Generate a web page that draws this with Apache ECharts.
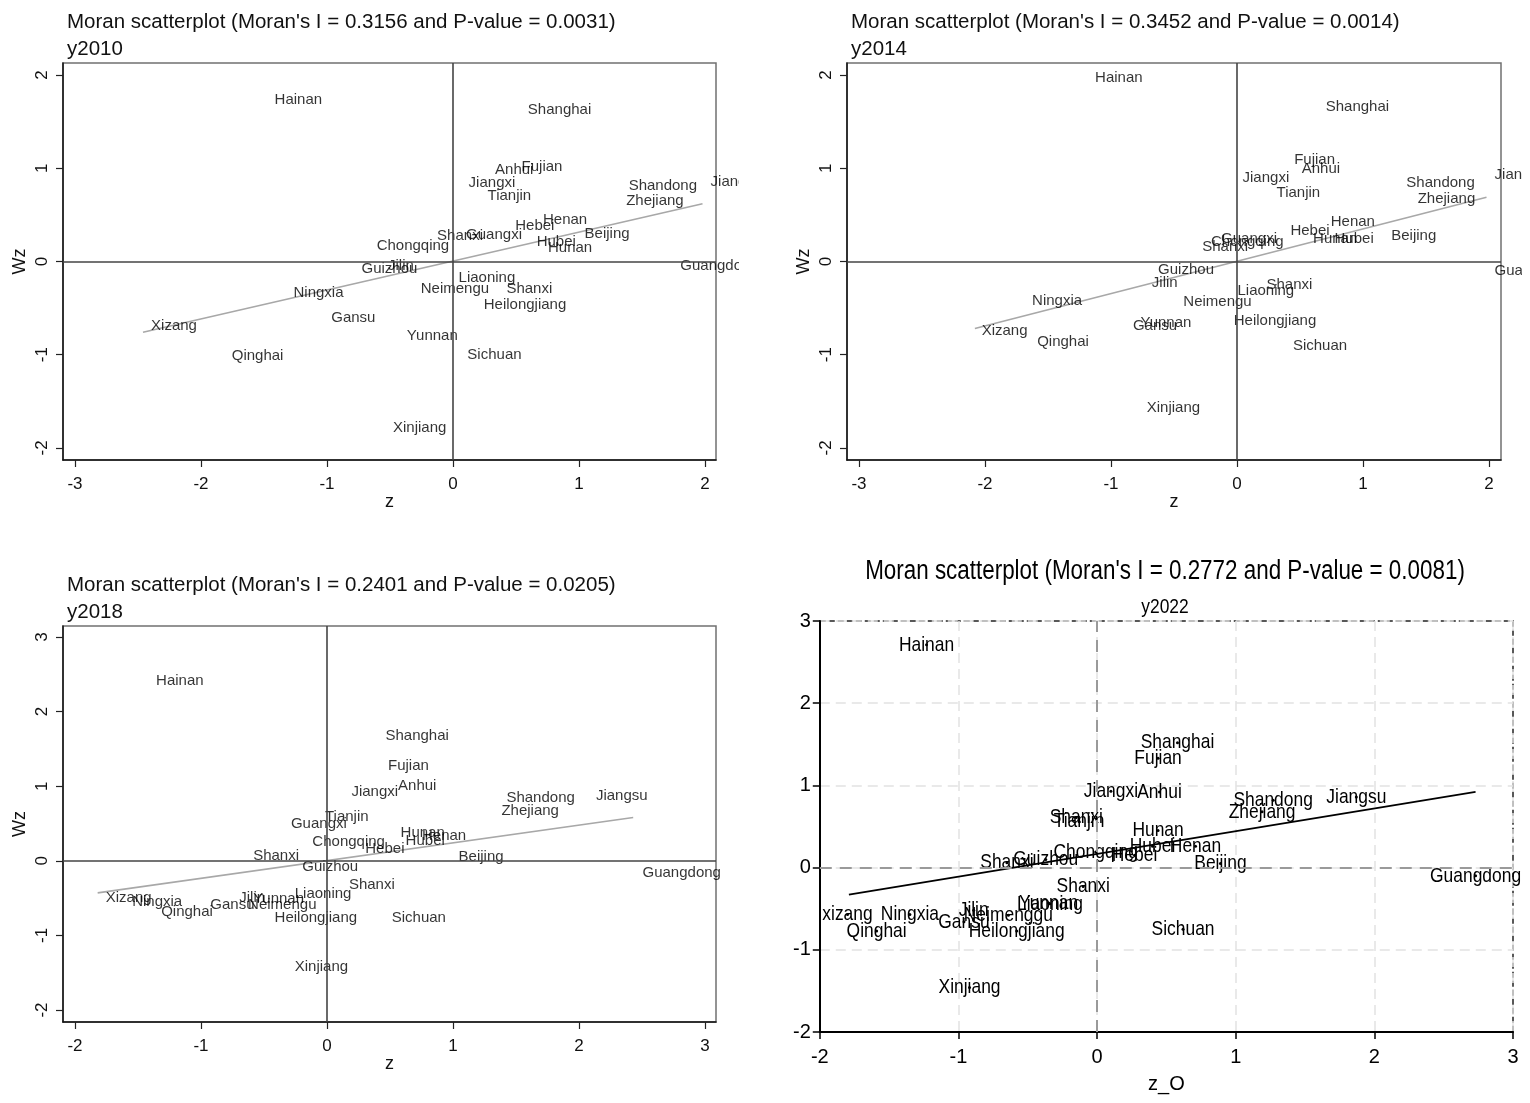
<!DOCTYPE html>
<html><head><meta charset="utf-8">
<script src="https://cdn.jsdelivr.net/npm/echarts@6/dist/echarts.min.js"></script>
<style>
html,body{margin:0;padding:0;background:#fff;overflow:hidden;width:1530px;height:1103px}
.p{position:absolute;overflow:hidden}
</style></head>
<body>
<div id="c1" class="p" style="left:0;top:0;width:739px;height:540px"></div>
<div id="c2" class="p" style="left:784px;top:0;width:738px;height:540px"></div>
<div id="c3" class="p" style="left:0;top:563px;width:739px;height:540px"></div>
<div id="c4" class="p" style="left:790px;top:540px;width:740px;height:563px"></div>
<script>
// ---------- data: 2010 ----------
const names2010 = ['Hainan','Chongqing','Guizhou','Jilin','Ningxia','Gansu','Xizang','Qinghai','Yunnan','Xinjiang','Neimengu','Liaoning','Shanxi','Heilongjiang','Sichuan','Shanxi','Guangxi','Hebei','Henan','Hubei','Hunan','Beijing','Shanghai','Anhui','Fujian','Jiangxi','Tianjin','Shandong','Zhejiang','Guangdong','Jiangsu'];
const z2010  = [-1.48,-0.67,-0.79,-0.58,-1.33,-1.03,-2.46,-1.82,-0.43,-0.54,-0.32,-0.02,0.36,0.18,0.05,-0.19,0.04,0.43,0.65,0.60,0.69,0.98,0.53,0.27,0.48,0.06,0.21,1.33,1.31,1.74,1.98];
const wz2010 = [1.73,0.17,-0.08,-0.05,-0.34,-0.61,-0.69,-1.01,-0.80,-1.78,-0.29,-0.18,-0.29,-0.47,-1.00,0.28,0.29,0.38,0.45,0.21,0.15,0.30,1.63,0.98,1.02,0.84,0.70,0.81,0.65,-0.05,0.85];
const fitX2010 = [-2.46, 1.98];
const fitY2010 = [-0.76, 0.62];

// ---------- data: 2014 ----------
const names2014 = ['Hainan','Guizhou','Jilin','Ningxia','Xizang','Qinghai','Gansu','Yunnan','Neimengu','Xinjiang','Liaoning','Shanxi','Heilongjiang','Sichuan','Shanxi','Chongqing','Guangxi','Hebei','Henan','Hunan','Hubei','Beijing','Shanghai','Fujian','Anhui','Jiangxi','Tianjin','Shandong','Zhejiang','Jiangsu','Guangdong'];
const z2014  = [-1.19,-0.69,-0.74,-1.69,-2.09,-1.65,-0.89,-0.83,-0.49,-0.78,-0.06,0.17,-0.09,0.38,-0.34,-0.27,-0.19,0.36,0.68,0.54,0.71,1.16,0.64,0.39,0.45,-0.02,0.25,1.28,1.37,1.98,1.98];
const wz2014 = [1.97,-0.09,-0.23,-0.42,-0.74,-0.86,-0.69,-0.66,-0.43,-1.57,-0.31,-0.25,-0.64,-0.91,0.16,0.21,0.24,0.33,0.42,0.24,0.24,0.27,1.66,1.09,0.99,0.90,0.74,0.84,0.67,0.93,-0.10];
const fitX2014 = [-2.08, 1.98];
const fitY2014 = [-0.72, 0.69];

// ---------- data: 2018 ----------
const names2018 = ['Hainan','Shanghai','Fujian','Anhui','Jiangxi','Tianjin','Guangxi','Chongqing','Hebei','Hunan','Hubei','Henan','Beijing','Shandong','Zhejiang','Jiangsu','Guangdong','Shanxi','Guizhou','Shanxi','Liaoning','Sichuan','Heilongjiang','Xinjiang','Xizang','Ningxia','Qinghai','Gansu','Jilin','Yunnan','Neimengu'];
const z2018  = [-1.42,0.40,0.42,0.50,0.13,-0.08,-0.35,-0.18,0.24,0.52,0.56,0.69,0.98,1.36,1.32,2.07,2.44,-0.65,-0.26,0.11,-0.32,0.45,-0.48,-0.32,-1.82,-1.61,-1.38,-0.99,-0.76,-0.65,-0.69];
const wz2018 = [2.41,1.68,1.27,1.01,0.93,0.59,0.50,0.26,0.16,0.37,0.27,0.33,0.05,0.84,0.67,0.87,-0.16,0.07,-0.08,-0.32,-0.44,-0.76,-0.76,-1.42,-0.49,-0.55,-0.69,-0.59,-0.50,-0.51,-0.59];
const fitX2018 = [-1.82, 2.43];
const fitY2018 = [-0.43, 0.58];

// ---------- data: 2022 ----------
const names2022 = ['Hainan','Shanghai','Fujian','Jiangxi','Anhui','Shanxi','Tianjin','Hunan','Hubei','Henan','Hebei','Chongqing','Guizhou','Shanxi','Shanxi','Yunnan','Liaoning','Jilin','Neimenggu','Gansu','Heilongjiang','Ningxia','xizang','Qinghai','Xinjiang','Sichuan','Beijing','Shandong','Zhejiang','Jiangsu','Guangdong'];
const z2022  = [-1.23,0.58,0.44,0.10,0.45,-0.15,-0.13,0.44,0.40,0.71,0.27,-0.01,-0.37,-0.65,-0.10,-0.35,-0.34,-0.89,-0.64,-0.96,-0.58,-1.35,-1.80,-1.59,-0.92,0.62,0.89,1.27,1.19,1.87,2.73];
const wz2022 = [2.71,1.52,1.33,0.93,0.92,0.61,0.56,0.45,0.26,0.26,0.15,0.19,0.10,0.06,-0.23,-0.43,-0.44,-0.52,-0.58,-0.66,-0.77,-0.57,-0.57,-0.77,-1.46,-0.75,0.05,0.82,0.68,0.86,-0.10];
const fitX2022 = [-1.79, 2.73];
const fitY2022 = [-0.33, 0.92];

// ---------- tick labels ----------
const xTicksA = [-3,-2,-1,0,1,2];
const yTicksA = [-2,-1,0,1,2];
const xTicksC = [-2,-1,0,1,2,3];
const yTicksC = [-2,-1,0,1,2,3];

const F = "'Liberation Sans', Arial, sans-serif";
const NARROW = 0.83; // horizontal squeeze to imitate a narrow face

function stataPanel(el, c) {
  const chart = echarts.init(document.getElementById(el), null, {renderer: 'canvas'});
  chart.setOption({
    animation: false,
    title: [
      {text: c.title, left: 67, top: 12, padding: 0, textStyle: {fontFamily: F, fontSize: 20.5, fontWeight: 'normal', color: '#111'}},
      {text: c.sub, left: 67, top: 39, padding: 0, textStyle: {fontFamily: F, fontSize: 20.5, fontWeight: 'normal', color: '#111'}}
    ],
    grid: {left: 63, top: 63, width: c.w, height: c.h, show: true, borderColor: '#707070', borderWidth: 1.5, backgroundColor: '#fff'},
    xAxis: {
      type: 'value', min: c.xMin, max: c.xMax,
      name: 'z', nameLocation: 'middle', nameGap: 33, nameMoveOverlap: false,
      nameTextStyle: {fontFamily: F, fontSize: 18, color: '#111'},
      axisLine: {show: true, onZero: false, lineStyle: {color: '#111', width: 1.5}},
      axisTick: {show: true, length: 7, customValues: c.xTicks, lineStyle: {color: '#222', width: 1.2}},
      axisLabel: {customValues: c.xTicks, fontFamily: F, fontSize: 17, color: '#111', margin: 16},
      splitLine: {show: false}
    },
    yAxis: {
      type: 'value', min: c.yMin, max: c.yMax,
      name: 'Wz', nameLocation: 'middle', nameGap: 34, nameMoveOverlap: false,
      nameTextStyle: {fontFamily: F, fontSize: 18, color: '#111'},
      axisLine: {show: true, onZero: false, lineStyle: {color: '#111', width: 1.5}},
      axisTick: {show: true, length: 7, customValues: c.yTicks, lineStyle: {color: '#222', width: 1.2}},
      axisLabel: {customValues: c.yTicks, rotate: 90, fontFamily: F, fontSize: 17, color: '#111', margin: 12},
      splitLine: {show: false}
    },
    series: [
      {
        type: 'line', data: [[c.fitX[0], c.fitY[0]], [c.fitX[1], c.fitY[1]]],
        symbol: 'none', silent: true, z: 2,
        lineStyle: {color: '#a8a8a8', width: 1.6},
        markLine: {
          silent: true, symbol: ['none', 'none'], label: {show: false},
          lineStyle: {color: '#444', width: 1.6, type: 'solid'},
          data: [{xAxis: 0}, {yAxis: 0}]
        }
      },
      {
        type: 'scatter', clip: false, silent: true, z: 3,
        data: c.names.map((n, i) => ({name: n, value: [c.xs[i], c.ys[i]]})),
        symbolSize: 0.1, itemStyle: {color: 'rgba(0,0,0,0)'},
        label: {show: true, position: 'right', distance: 8, formatter: '{b}', fontFamily: F, fontSize: 15, color: '#000'}
      }
    ]
  });
}

stataPanel('c1', {
  title: "Moran scatterplot (Moran's I = 0.3156 and P-value = 0.0031)", sub: 'y2010',
  names: names2010, xs: z2010, ys: wz2010, fitX: fitX2010, fitY: fitY2010,
  xMin: -3.095, xMax: 2.087, yMin: -2.13, yMax: 2.13, xTicks: xTicksA, yTicks: yTicksA, w: 653, h: 397
});
stataPanel('c2', {
  title: "Moran scatterplot (Moran's I = 0.3452 and P-value = 0.0014)", sub: 'y2014',
  names: names2014, xs: z2014, ys: wz2014, fitX: fitX2014, fitY: fitY2014,
  xMin: -3.095, xMax: 2.095, yMin: -2.13, yMax: 2.13, xTicks: xTicksA, yTicks: yTicksA, w: 654, h: 397
});
stataPanel('c3', {
  title: "Moran scatterplot (Moran's I = 0.2401 and P-value = 0.0205)", sub: 'y2018',
  names: names2018, xs: z2018, ys: wz2018, fitX: fitX2018, fitY: fitY2018,
  xMin: -2.095, xMax: 3.087, yMin: -2.16, yMax: 3.147, xTicks: xTicksC, yTicks: yTicksC, w: 653, h: 396
});

// ---------- panel 4 ----------
(function () {
  const chart = echarts.init(document.getElementById('c4'), null, {renderer: 'canvas'});
  chart.setOption({
    animation: false,
    graphic: [
      {type: 'text', x: 375, y: 32, scaleX: NARROW, silent: true,
       style: {text: "Moran scatterplot (Moran's I = 0.2772 and P-value = 0.0081)", fontFamily: F, fontSize: 27,
               fill: '#000', align: 'center', verticalAlign: 'middle'}},
      {type: 'text', x: 375, y: 67, scaleX: NARROW, silent: true,
       style: {text: 'y2022', fontFamily: F, fontSize: 21, fill: '#000', align: 'center', verticalAlign: 'middle'}}
    ],
    grid: {left: 28, top: 81, width: 695, height: 411, show: true, borderColor: '#222', borderWidth: 1.5, borderType: 'dashed', backgroundColor: '#fff'},
    xAxis: {
      type: 'value', min: -2, max: 3, interval: 1,
      name: 'z_O', nameLocation: 'middle', nameGap: 42,
      nameTextStyle: {fontFamily: F, fontSize: 20, color: '#000'},
      axisLine: {show: true, onZero: false, lineStyle: {color: '#000', width: 2}},
      axisTick: {show: true, length: 7, lineStyle: {color: '#000', width: 1.5}},
      axisLabel: {fontFamily: F, fontSize: 20, color: '#000', margin: 15},
      splitLine: {show: true, lineStyle: {color: '#e2e2e2', width: 1.5, type: [10, 6]}}
    },
    yAxis: {
      type: 'value', min: -2, max: 3, interval: 1,
      axisLine: {show: true, onZero: false, lineStyle: {color: '#000', width: 2}},
      axisTick: {show: true, length: 7, lineStyle: {color: '#000', width: 1.5}},
      axisLabel: {fontFamily: F, fontSize: 20, color: '#000', margin: 9},
      splitLine: {show: true, lineStyle: {color: '#e2e2e2', width: 1.5, type: [10, 6]}}
    },
    series: [
      {
        type: 'line', data: [[fitX2022[0], fitY2022[0]], [fitX2022[1], fitY2022[1]]],
        symbol: 'none', silent: true, z: 3,
        lineStyle: {color: '#000', width: 1.8},
        markLine: {
          silent: true, symbol: ['none', 'none'], label: {show: false},
          lineStyle: {color: '#9a9a9a', width: 2, type: [12, 8]},
          data: [{xAxis: 0}, {yAxis: 0}]
        }
      },
      {
        type: 'custom', silent: true, z: 4, clip: false,
        data: names2022.map((n, i) => [z2022[i], wz2022[i]]),
        renderItem: function (params, api) {
          const p = api.coord([api.value(0), api.value(1)]);
          return {
            type: 'group',
            children: [
              {type: 'circle', shape: {cx: p[0], cy: p[1], r: 1.5}, style: {fill: '#000'}},
              {type: 'text', x: p[0], y: p[1], scaleX: NARROW,
               style: {text: names2022[params.dataIndex], fontFamily: F, fontSize: 21, fill: '#000',
                       align: 'center', verticalAlign: 'middle'}}
            ]
          };
        }
      }
    ]
  });
})();
</script>
</body></html>
